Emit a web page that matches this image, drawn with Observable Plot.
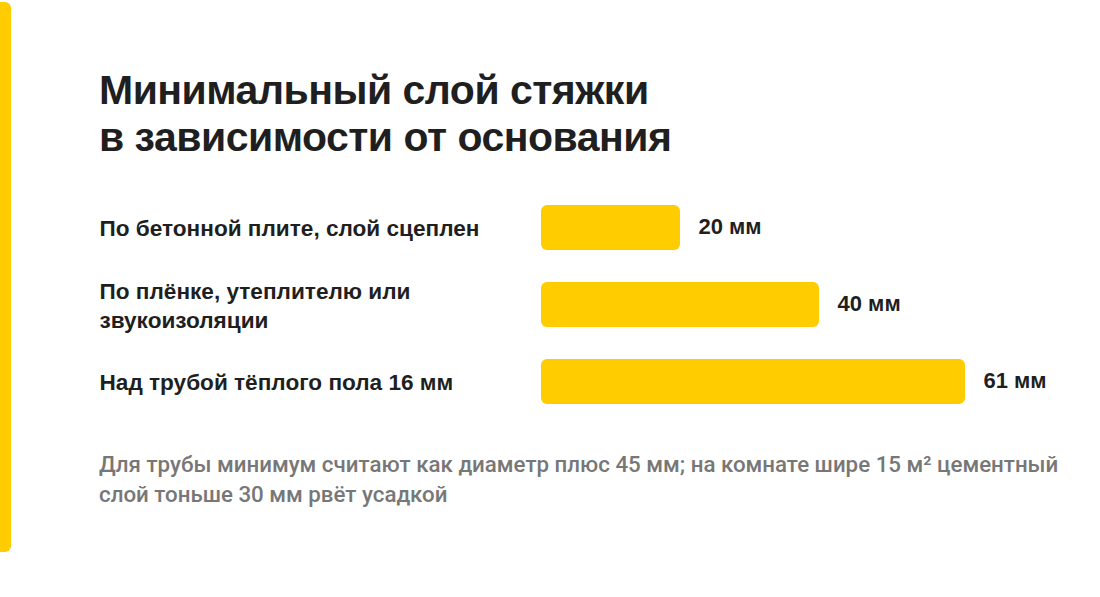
<!DOCTYPE html>
<html>
<head>
<meta charset="utf-8">
<script src="https://cdn.jsdelivr.net/npm/d3@7"></script>
<script src="https://cdn.jsdelivr.net/npm/@observablehq/plot@0.6"></script>
<style>
  html, body { margin: 0; padding: 0; background: #fff; }
  body { width: 1100px; height: 597px; position: relative; overflow: hidden; font-family: "Liberation Sans", Arial, sans-serif; }
  #stripe { position: absolute; left: 0; top: 2px; width: 11px; height: 550px; background: #ffcc00; border-radius: 0 6px 6px 0; }
  h1 { position: absolute; left: 99px; top: 67px; margin: 0; font-size: 41px; line-height: 47px; font-weight: 700; color: #1f1f1f; letter-spacing: -0.5px; white-space: nowrap; }
  #chart { position: absolute; left: 0; top: 188px; }
  #note { position: absolute; left: 99px; top: 449px; width: 985px; margin: 0; font-family: Roboto, "Liberation Sans", sans-serif; font-size: 22.3px; line-height: 30px; color: #777; font-weight: 500; }
</style>
</head>
<body>
<div id="stripe"></div>
<h1>Минимальный слой стяжки<br>в зависимости от основания</h1>
<div id="chart"></div>
<p id="note">Для трубы минимум считают как диаметр плюс 45 мм; на комнате шире 15 м² цементный слой тоньше 30 мм рвёт усадкой</p>
<script>
const categories = [
  "По бетонной плите, слой сцеплен",
  "По плёнке, утеплителю или звукоизоляции",
  "Над трубой тёплого пола 16 мм"
];
const values = [20, 40, 61];
const valueLabels = ["20 мм", "40 мм", "61 мм"];

const data = categories.map((c, i) => ({category: c, value: values[i], label: valueLabels[i]}));

const chart = Plot.plot({
  width: 1100,
  height: 233,
  marginLeft: 541,
  marginRight: 135,
  marginTop: 0,
  marginBottom: 0,
  style: {background: "transparent", fontFamily: "Liberation Sans, Arial, sans-serif", overflow: "visible"},
  x: {domain: [0, 61], axis: null},
  y: {domain: categories, axis: null, paddingInner: 0.42, paddingOuter: 0.21},
  marks: [
    Plot.barX(data, {x: "value", y: "category", fill: "#ffcc00", rx: 6}),
    Plot.text(data, {x: "value", y: "category", text: "label", textAnchor: "start", dx: 18, dy: -1, fontSize: 22, fontWeight: 700, fill: "#1f1f1f"}),
    Plot.text(data, {x: 0, y: "category", text: "category", textAnchor: "start", dx: -442, dy: -1, fontSize: 22.6, fontWeight: 700, fill: "#1f1f1f", lineWidth: 19, lineHeight: 1.3})
  ]
});
document.getElementById("chart").appendChild(chart);
</script>
</body>
</html>
